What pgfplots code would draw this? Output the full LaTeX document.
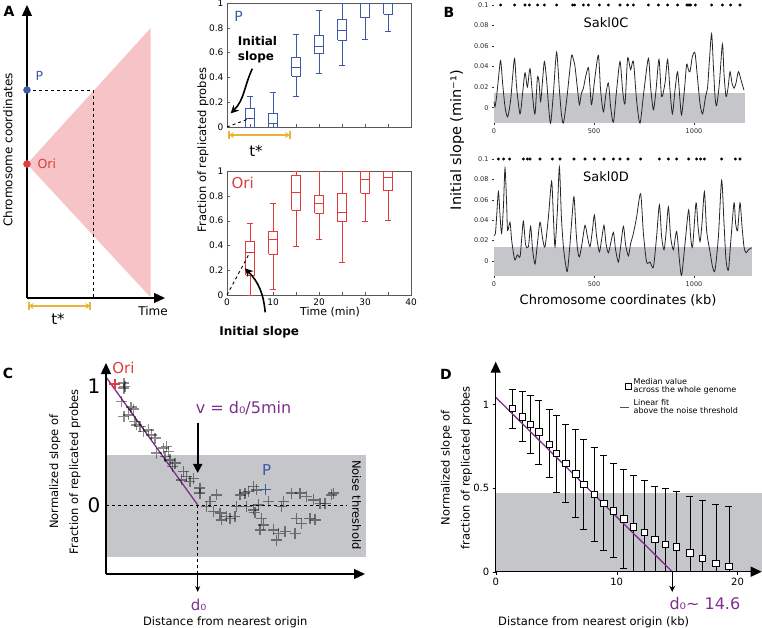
\documentclass[border=0pt]{standalone}
\usepackage{pgfplots}
\pgfplotsset{compat=1.18}
\usetikzlibrary{arrows.meta}
\usepackage{fontspec}
\setmainfont{DejaVu Sans}
\definecolor{pblue}{HTML}{3D5AA6}
\definecolor{ored}{HTML}{E23B3B}
\definecolor{pinkfill}{HTML}{F6C3C6}
\definecolor{tyellow}{HTML}{E8B53A}
\definecolor{fpurple}{HTML}{7E2F8E}
\definecolor{bandgray}{HTML}{C4C6C9}
\newcommand{\fs}[2]{\fontsize{#1}{#2}\selectfont}
\pgfplotsset{base/.style={scale only axis, anchor=south west, clip=false,
  /pgf/number format/assume math mode=true}}
\pgfplotsset{shortline/.style={legend image code/.code={\draw[##1] (0pt,0pt) -- (9pt,0pt);}}}
\pgfplotsset{boxA/.style={base, width=184pt, height=124pt,
  xmin=0,xmax=40,ymin=0,ymax=1,
  xtick={0,10,20,30,40}, minor xtick={5,15,25,35},
  ytick={0,0.2,0.4,0.6,0.8,1}, yticklabels={0,0.2,0.4,0.6,0.8,1},
  tick label style={font=\fs{9}{10}},
  axis line style={black!65, line width=0.6pt},
  tick style={black!65}, xtick pos=bottom, ytick pos=left,
  major tick length=3pt, minor tick length=3pt}}
% box: #1 colour, #2 position, #3 lower whisker, #4 lower quartile, #5 median, #6 upper quartile, #7 upper whisker
\newcommand{\bxp}[7]{%
  \pgfmathsetmacro\bxl{#2-0.9}\pgfmathsetmacro\bxr{#2+0.9}%
  \pgfmathsetmacro\cxl{#2-0.75}\pgfmathsetmacro\cxr{#2+0.75}%
  \edef\bxtmp{\noexpand\addplot[#1, line width=0.9pt, unbounded coords=jump] coordinates {(\bxl,#4)(\bxr,#4)(\bxr,#6)(\bxl,#6)(\bxl,#4) (nan,nan) (\bxl,#5)(\bxr,#5) (nan,nan) (#2,#6)(#2,#7) (nan,nan) (\cxl,#7)(\cxr,#7) (nan,nan) (#2,#4)(#2,#3) (nan,nan) (\cxl,#3)(\cxr,#3)};}%
  \bxtmp}
\pgfplotsset{slopeB/.style={base, ymin=-0.015, ymax=0.1,
  axis lines=left, axis line style={draw=none},
  xtick={0,500,1000}, ytick={0,0.02,0.04,0.06,0.08,0.1},
  yticklabels={0,0.02,0.04,0.06,0.08,0.1}, xticklabels={0,500,1000},
  tick align=outside, major tick length=2pt, tick style={black!80, line width=0.4pt},
  tick label style={font=\fs{6.5}{7}, text=black!85}}}
\begin{document}
\begin{tikzpicture}
\path[use as bounding box] (0pt,0pt) rectangle (762pt,-628pt);

% ---------------- A schematic
\begin{axis}[base, at={(27pt,-298pt)}, width=138pt, height=293pt,
  xmin=0, xmax=138, ymin=0, ymax=293,
  axis lines=left, xtick=\empty, ytick=\empty,
  axis line style={line width=1.3pt, -{Triangle[length=11pt,width=10pt]}}]
\addplot[fill=pinkfill, draw=none] coordinates {(0,134) (123.7,270) (123.7,0.5) (0,134)} -- cycle;
\addplot[black, dashed, line width=0.9pt] coordinates {(0,208) (66,208) (66,0)};
\addplot[only marks, mark=*, mark size=3.5pt, ored] coordinates {(0,134)};
\addplot[only marks, mark=*, mark size=3.5pt, pblue] coordinates {(0,208)};
\node[anchor=west, ored, font=\fs{12.5}{14}] at (axis cs:7,134) {Ori};
\node[anchor=west, pblue, font=\fs{12.5}{14}] at (axis cs:5,222) {P};
\addplot[tyellow, line width=1.6pt, {Bar[width=8pt]}-{Bar[width=8pt]}] coordinates {(1,-8) (64,-8)};
\addplot[tyellow, line width=1.6pt, {Stealth[length=5pt,width=6pt]}-{Stealth[length=5pt,width=6pt]}] coordinates {(1.5,-8) (63.5,-8)};
\node[font=\fs{15}{18}] at (axis cs:31,-21) {t*};
\node[font=\fs{12}{14}] at (axis cs:126,-13) {Time};
\node[rotate=90, font=\fs{12}{14}] at (axis cs:-19,148) {Chromosome coordinates};
\end{axis}

% ---------------- A boxplot P
\begin{axis}[boxA, at={(227pt,-127pt)}, xticklabels={}]
\bxp{pblue}{5}{0}{0}{0.07}{0.15}{0.25}
\bxp{pblue}{10}{0}{0}{0.03}{0.11}{0.28}
\bxp{pblue}{15}{0.25}{0.41}{0.48}{0.56}{0.75}
\bxp{pblue}{20}{0.43}{0.59}{0.65}{0.74}{0.94}
\bxp{pblue}{25}{0.50}{0.70}{0.78}{0.87}{1}
\bxp{pblue}{30}{0.71}{0.88}{1}{1}{1}
\bxp{pblue}{35}{0.77}{0.91}{1}{1}{1}
\addplot[black, dashed, line width=0.9pt] coordinates {(0,0) (5,0.07)};
\node[pblue, font=\fs{14}{16}] at (axis cs:2.5,0.89) {P};
\node[anchor=west, align=left, font=\bfseries\fs{12}{15}] at (axis cs:1.6,0.62) {Initial\\slope};
\draw[-{Stealth[length=8pt,width=8pt]}, line width=1.6pt] (axis cs:5.5,0.47) to[out=245,in=45] (axis cs:0.8,0.11);
\addplot[tyellow, line width=1.6pt, {Bar[width=8pt]}-{Bar[width=8pt]}] coordinates {(0.2,-0.065) (13.9,-0.065)};
\addplot[tyellow, line width=1.6pt, {Stealth[length=5pt,width=6pt]}-{Stealth[length=5pt,width=6pt]}] coordinates {(0.4,-0.065) (13.7,-0.065)};
\node[font=\fs{15}{18}] at (axis cs:6.3,-0.19) {t*};
\end{axis}

% ---------------- A boxplot Ori
\begin{axis}[boxA, at={(227pt,-295pt)}, xticklabels={0,10,20,30,40}]
\bxp{ored}{5}{0}{0.16}{0.345}{0.43}{0.58}
\bxp{ored}{10}{0.045}{0.33}{0.445}{0.515}{0.74}
\bxp{ored}{15}{0.39}{0.685}{0.83}{0.965}{1}
\bxp{ored}{20}{0.45}{0.66}{0.735}{0.80}{1}
\bxp{ored}{25}{0.26}{0.59}{0.665}{0.815}{1}
\bxp{ored}{30}{0.595}{0.82}{0.93}{1}{1}
\bxp{ored}{35}{0.605}{0.84}{0.947}{1}{1}
\addplot[black, dashed, line width=0.9pt] coordinates {(0,0) (5,0.345)};
\node[ored, font=\fs{15}{17}] at (axis cs:3.4,0.90) {Ori};
\draw[-{Stealth[length=8pt,width=8pt]}, line width=1.6pt] (axis cs:8.3,-0.14) to[out=95,in=-45] (axis cs:3.9,0.215);
\node[font=\fs{11}{13}] at (axis cs:22.4,-0.14) {Time (min)};
\node[font=\bfseries\fs{12}{14}] at (axis cs:7,-0.30) {Initial slope};
\end{axis}
\node[rotate=90, font=\fs{11.5}{13}] at (203pt,-150pt) {Fraction of replicated probes};

% ---------------- B top
\begin{axis}[slopeB, at={(494pt,-123.1pt)}, width=251pt, height=118.1pt, xmin=0, xmax=1255]
\addplot[fill=bandgray, draw=none] coordinates {(0,-0.015) (1255,-0.015) (1255,0.0146) (0,0.0146)} -- cycle;
\addplot[black!85, line width=0.8pt, smooth, tension=0.45] coordinates {
(0,0.006)(5,0.001)(13,0.011)(23,0.030)(33,0.046)(43,0.024)(55,0.001)(68,-0.009)(83,0.007)(93,0.030)
(103,0.048)(113,0.020)(130,-0.006)(143,0.014)(155,0.034)(167,0.020)(180,0.038)(193,0.011)(205,-0.006)(217,0.029)
(225,0.025)(233,0.006)(243,0.027)(252,0.045)(263,0.027)(273,0.001)(283,-0.015)(297,0.014)(313,0.054)(327,0.017)
(337,-0.006)(347,-0.015)(363,0.007)(377,0.033)(388,0.051)(397,0.047)(405,0.040)(417,0.019)(427,0.003)(437,0.014)
(447,0.019)(458,0.030)(472,0.039)(480,0.020)(488,0.003)(505,0.030)(522,0.051)(533,0.017)(547,-0.004)(560,0.014)
(572,0.024)(583,0.001)(597,-0.014)(613,0.017)(630,0.045)(643,0.017)(655,0.004)(668,0.048)(683,0.037)(697,0.045)
(713,0.007)(730,-0.015)(750,0.017)(772,0.048)(783,0.020)(797,-0.002)(810,0.017)(825,0.047)(838,0.011)(855,0.024)
(868,0.047)(880,0.017)(892,-0.006)(905,0.017)(918,0.035)(930,0.007)(938,-0.007)(952,0.017)(963,0.042)(972,0.037)
(980,0.035)(992,0.050)(1005,0.053)(1017,0.030)(1030,0.004)(1043,-0.006)(1058,0.011)(1068,0.020)(1077,0.046)(1088,0.072)
(1097,0.040)(1105,0.011)(1113,0.002)(1127,0.024)(1142,0.062)(1150,0.033)(1160,0.011)(1170,0.019)(1180,0.035)(1190,0.024)
(1200,0.019)(1210,0.024)(1222,0.035)(1235,0.027)(1250,0.017)};
\addplot[only marks, mark=*, mark size=1.3pt, black] coordinates {
(33,0.1)(103,0.1)(155,0.1)(177,0.1)(218,0.1)(252,0.1)(313,0.1)(393,0.1)(403,0.1)(447,0.1)
(472,0.1)(527,0.1)(572,0.1)(630,0.1)(668,0.1)(697,0.1)(772,0.1)(822,0.1)(868,0.1)(918,0.1)
(965,0.1)(975,0.1)(983,0.1)(1007,0.1)(1088,0.1)(1142,0.1)(1183,0.1)(1230,0.1)};
\node[font=\fs{13}{15}] at (axis cs:560,0.0825) {Sakl0C};
\end{axis}

% ---------------- B bottom
\begin{axis}[slopeB, at={(494pt,-276.3pt)}, width=257.6pt, height=117.3pt, xmin=0, xmax=1288]
\addplot[fill=bandgray, draw=none] coordinates {(0,-0.015) (1288,-0.015) (1288,0.0135) (0,0.0135)} -- cycle;
\addplot[black!85, line width=0.8pt, smooth, tension=0.45] coordinates {
(0,0.025)(7,0.027)(13,0.043)(22,0.068)(30,0.045)(38,0.027)(47,0.053)(55,0.091)(63,0.057)(68,0.030)
(80,0.038)(88,0.021)(97,0.008)(105,0.001)(117,0.006)(130,0.004)(138,0.021)(147,0.039)(158,0.016)(172,0.014)
(183,0.034)(193,0.011)(205,-0.003)(217,0.017)(230,0.038)(243,0.022)(255,0.014)(272,0.043)(288,0.078)(297,0.043)
(305,0.014)(317,0.050)(327,0.092)(337,0.043)(347,0.014)(357,-0.002)(367,-0.010)(380,0.017)(390,0.043)(400,0.063)
(410,0.030)(418,0.011)(427,0.004)(440,0.017)(455,0.035)(467,0.024)(480,0.014)(492,0.030)(502,0.045)(513,0.024)
(527,0.009)(538,0.021)(550,0.035)(560,0.017)(572,0.008)(583,0.017)(597,0.028)(608,0.011)(622,-0.001)(633,0.014)
(647,0.034)(658,0.016)(672,0.005)(683,0.017)(697,0.027)(713,0.043)(733,0.066)(747,0.027)(763,-0.001)(780,-0.001)
(797,-0.006)(813,0.024)(827,0.055)(838,0.024)(850,0.011)(860,0.027)(872,0.053)(883,0.024)(897,0.011)(913,0.029)
(927,0.001)(938,-0.014)(955,0.017)(973,0.050)(983,0.024)(993,0.014)(1010,0.057)(1020,0.034)(1030,0.019)(1040,0.037)
(1052,0.068)(1063,0.030)(1080,0.009)(1093,-0.006)(1105,-0.009)(1122,0.024)(1138,0.079)(1150,0.037)(1160,0.001)(1172,-0.009)
(1183,0.017)(1200,0.057)(1208,0.037)(1218,0.030)(1230,0.057)(1240,0.034)(1250,0.014)(1260,0.008)(1272,0.011)(1288,0.013)};
\addplot[only marks, mark=*, mark size=1.3pt, black] coordinates {
(22,0.1)(48,0.1)(78,0.1)(147,0.1)(167,0.1)(180,0.1)(230,0.1)(292,0.1)(330,0.1)(400,0.1)
(455,0.1)(502,0.1)(550,0.1)(597,0.1)(630,0.1)(670,0.1)(733,0.1)(827,0.1)(872,0.1)(913,0.1)
(973,0.1)(1013,0.1)(1033,0.1)(1052,0.1)(1138,0.1)(1207,0.1)(1230,0.1)};
\node[font=\fs{13}{15}] at (axis cs:560,0.0824) {Sakl0D};
\end{axis}
\node[rotate=90, font=\fs{14.5}{16}] at (457pt,-140pt) {Initial slope (min⁻¹)};
\node[font=\fs{13}{15}] at (618pt,-300pt) {Chromosome coordinates (kb)};

% ---------------- C
\begin{axis}[base, at={(106pt,-574pt)}, width=259pt, height=211pt,
  xmin=0, xmax=2.825, ymin=-0.583, ymax=1.198, axis lines=left, axis on top,
  axis line style={line width=1.3pt, -{Triangle[length=11pt,width=10pt]}},
  xtick=\empty, ytick={0,1}, yticklabels={0,1}, ytick style={draw=none},
  yticklabel style={font=\fs{20}{22}}]
\addplot[fill=bandgray, draw=none] coordinates {(0,-0.437) (2.84,-0.437) (2.84,0.42) (0,0.42)} -- cycle;
\addplot[black, dashed, line width=0.8pt] coordinates {(0,0) (2.63,0)};
\addplot[black, dashed, line width=0.9pt] coordinates {(1,0) (1,-0.583)};
\addplot[black, line width=1pt, -{Stealth[length=6pt,width=5pt]}] coordinates {(1,-0.583) (1,-0.735)};
\addplot[only marks, mark=+, mark size=5.5pt, mark options={line width=1.5pt, draw=black, draw opacity=0.45}] coordinates {
(0.196,1.028)(0.207,1.0)(0.196,0.986)(0.171,0.873)(0.273,0.825)(0.298,0.808)(0.196,0.746)(0.244,0.761)(0.316,0.704)(0.371,0.662)
(0.335,0.676)(0.407,0.620)(0.462,0.634)(0.498,0.592)(0.535,0.563)(0.553,0.437)(0.625,0.479)(0.680,0.451)(0.662,0.493)(0.644,0.408)
(0.698,0.380)(0.753,0.352)(0.727,0.324)(0.844,0.282)(0.880,0.239)(0.916,0.197)(0.825,0.211)(0.953,0.225)(1.025,0.141)(1.025,0.099)
(1.135,0.028)(1.098,-0.014)(1.171,-0.056)(1.207,0.085)(1.244,-0.070)(1.262,-0.127)(1.316,-0.099)(1.353,-0.113)(1.407,-0.099)(1.425,-0.014)
(1.462,0.085)(1.516,0.099)(1.553,0.113)(1.607,0.155)(1.644,0.127)(1.662,0.0)(1.607,-0.042)(1.625,-0.065)(1.698,-0.113)(1.716,-0.169)
(1.771,0.028)(1.825,-0.211)(1.880,-0.239)(1.862,-0.296)(1.916,-0.014)(1.935,0.028)(1.953,-0.225)(2.025,0.099)(2.062,-0.239)(2.080,-0.113)
(2.116,0.099)(2.135,-0.155)(2.189,0.070)(2.225,-0.113)(2.262,0.042)(2.280,-0.127)(2.335,0.014)(2.389,0.014)(2.462,0.085)(2.480,0.099)
(1.680,-0.211)(1.535,-0.014)};
\addplot[only marks, mark=+, mark size=5.5pt, mark options={line width=1.5pt, ored}] coordinates {(0.098,1.02)};
\addplot[only marks, mark=+, mark size=5.5pt, mark options={line width=1.5pt, pblue}] coordinates {(1.742,0.132)};
\addplot[fpurple, line width=1.3pt] coordinates {(0,1.08) (1,0)};
\addplot[black, line width=2.2pt, -{Triangle[length=9pt,width=9pt]}] coordinates {(1,0.69) (1,0.27)};
\node[fpurple, font=\fs{16}{18}] at (axis cs:1.50,0.82) {v = d₀/5min};
\node[ored, font=\fs{15}{17}] at (axis cs:0.19,1.158) {Ori};
\node[pblue, font=\fs{15}{17}] at (axis cs:1.753,0.296) {P};
\node[rotate=-90, font=\fs{11.5}{13}] at (axis cs:2.735,0) {Noise threshold};
\node[fpurple, font=\fs{15}{17}] at (axis cs:1.01,-0.84) {d₀};
\node[font=\fs{11.5}{13}] at (axis cs:1.30,-0.99) {Distance from nearest origin};
\node[rotate=90, align=center, font=\fs{11.5}{20}] at (axis cs:-0.447,0.28) {Normalized slope of\\Fraction of replicated probes};
\end{axis}

% ---------------- D
\begin{axis}[base, at={(495.7pt,-571.7pt)}, width=266pt, height=210pt,
  xmin=0, xmax=22, ymin=0, ymax=1.255, axis lines=left, axis on top,
  axis line style={line width=1.3pt, -{Triangle[length=11pt,width=10pt]}},
  xtick={0,10,20}, ytick={0,0.5,1}, yticklabels={0,0.5,1}, xticklabels={0,10,20},
  tick align=outside, major tick length=3pt, tick style={black},
  tick label style={font=\fs{10}{12}},
  legend style={at={(axis cs:10.2,1.17)}, anchor=north west, draw=none, fill=none,
    font=\fs{8}{8.5}, inner sep=0pt, row sep=1pt, cells={anchor=west, align=left}}]
\addplot[fill=bandgray, draw=none, forget plot] coordinates {(0,0) (22,0) (22,0.472) (0,0.472)} -- cycle;
\addplot[forget plot, draw=none, mark=none, error bars/.cd, y dir=both, y explicit,
  error bar style={draw=black, line width=0.6pt}, error mark options={rotate=90, draw=black, mark size=3.5pt, line width=0.6pt}]
  coordinates {
(1.35,0.976) += (0,0.114) -= (0,0.116)
(2.18,0.926) += (0,0.150) -= (0,0.145)
(2.84,0.882) += (0,0.174) -= (0,0.175)
(3.58,0.835) += (0,0.191) -= (0,0.192)
(4.41,0.763) += (0,0.207) -= (0,0.201)
(5.01,0.707) += (0,0.229) -= (0,0.231)
(5.79,0.647) += (0,0.235) -= (0,0.235)
(6.61,0.584) += (0,0.267) -= (0,0.259)
(7.27,0.522) += (0,0.271) -= (0,0.269)
(8.13,0.462) += (0,0.279) -= (0,0.281)
(8.93,0.408) += (0,0.285) -= (0,0.283)
(9.73,0.365) += (0,0.282) -= (0,0.279)
(10.58,0.315) += (0,0.297) -= (0,0.295)
(11.38,0.269) += (0,0.305) -= (0,0.269)
(12.29,0.235) += (0,0.313) -= (0,0.235)
(13.17,0.195) += (0,0.317) -= (0,0.195)
(14.05,0.165) += (0,0.333) -= (0,0.165)
(14.93,0.149) += (0,0.329) -= (0,0.149)
(16.06,0.114) += (0,0.338) -= (0,0.114)
(17.11,0.080) += (0,0.348) -= (0,0.080)
(18.21,0.050) += (0,0.352) -= (0,0.050)
(19.28,0.034) += (0,0.354) -= (0,0.034)};
\addplot[only marks, mark=square*, mark size=3.2pt, mark options={fill=white, draw=black, line width=0.6pt}] coordinates {
(1.35,0.976)(2.18,0.926)(2.84,0.882)(3.58,0.835)(4.41,0.763)(5.01,0.707)(5.79,0.647)(6.61,0.584)(7.27,0.522)(8.13,0.462)
(8.93,0.408)(9.73,0.365)(10.58,0.315)(11.38,0.269)(12.29,0.235)(13.17,0.195)(14.05,0.165)(14.93,0.149)(16.06,0.114)(17.11,0.080)
(18.21,0.050)(19.28,0.034)};
\addlegendentry{Median value\\across the whole genome}
\addplot[fpurple, line width=1.3pt, shortline] coordinates {(0,1.042) (14.6,0)};
\addlegendentry{Linear fit\\above the noise threshold}
\addplot[black, line width=1.2pt, -{Stealth[length=6pt,width=6pt]}, forget plot] coordinates {(14.6,0) (14.6,-0.12)};
\node[fpurple, font=\fs{16}{18}] at (axis cs:17.3,-0.19) {d₀\textasciitilde{} 14.6};
\node[font=\fs{11.5}{13}] at (axis cs:8.1,-0.30) {Distance from nearest origin (kb)};
\node[rotate=90, align=center, font=\fs{11.5}{20}] at (axis cs:-3.25,0.62) {Normalized slope of\\fraction of replicated probes};
\end{axis}

% panel letters
\node[font=\bfseries\fs{14}{16}] at (9pt,-11pt) {A};
\node[font=\bfseries\fs{14}{16}] at (449pt,-12pt) {B};
\node[font=\bfseries\fs{14}{16}] at (8pt,-373pt) {C};
\node[font=\bfseries\fs{14}{16}] at (446pt,-374pt) {D};
\end{tikzpicture}
\end{document}
